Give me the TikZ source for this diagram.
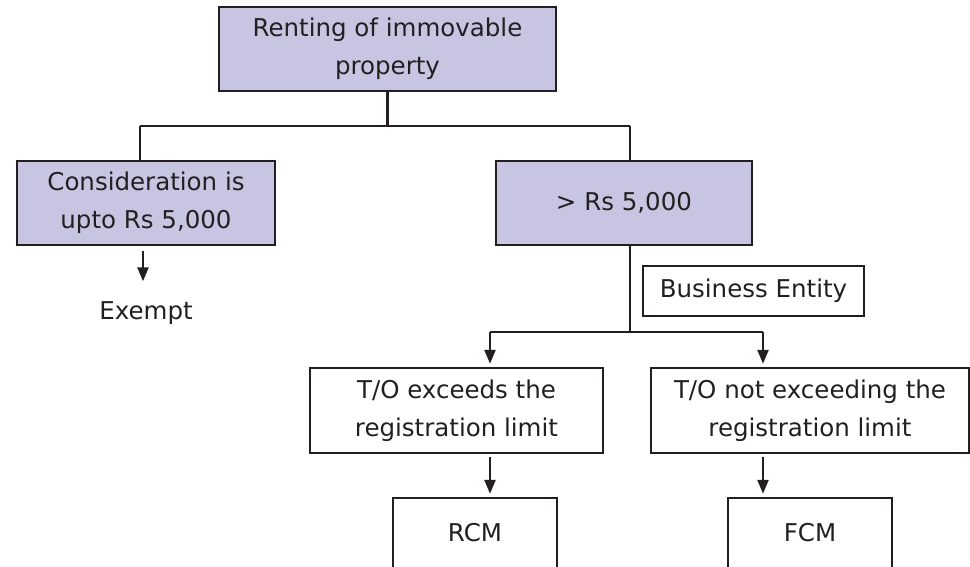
\documentclass[tikz,border=0pt]{standalone}
\usepackage{fontspec}
\setmainfont{DejaVu Sans}
\usetikzlibrary{arrows.meta}
\definecolor{boxfill}{RGB}{200,197,226}
\definecolor{ink}{RGB}{35,31,32}

\begin{document}
\begin{tikzpicture}
[x=1pt,y=-1pt,line width=2.5pt,draw=ink,
 box/.style={draw=ink,line width=2.5pt,text=ink,align=center,inner sep=0pt,font=\fontsize{24.5}{38}\selectfont},
 shaded/.style={box,fill=boxfill},
 txt/.style={text=ink,inner sep=0pt,font=\fontsize{24.5}{38}\selectfont},
 arr/.style={-{Triangle[length=14pt,width=11pt]},shorten >=3pt}]
\useasboundingbox (0,0) rectangle (970,566);

\node[shaded,minimum width=337pt,minimum height=84pt] (v1) at (387.5,49) {Renting of immovable\\property};
\node[shaded,minimum width=258pt,minimum height=84pt] (v2) at (146,203) {Consideration is\\upto Rs 5,000};
\node[shaded,minimum width=256pt,minimum height=84pt] (v3) at (624,203) {> Rs 5,000};
\node[txt] (v4) at (146,313) {Exempt};

\node[box,minimum width=221pt,minimum height=50pt] (v5) at (753.5,291) {Business Entity};
\node[box,minimum width=293pt,minimum height=85pt] (v6) at (456.5,410.5) {T/O exceeds the\\registration limit};
\node[box,minimum width=318pt,minimum height=85pt] (v7) at (810,410.5) {T/O not exceeding the\\registration limit};
\node[box,minimum width=164pt,minimum height=70pt] (v8) at (475,533) {RCM};
\node[box,minimum width=164pt,minimum height=70pt] (v9) at (810,533) {FCM};

\coordinate (j1) at (387.5,126);
\coordinate (cl) at (140,126);
\coordinate (cr) at (630,126);
\coordinate (j2) at (630,332);
\coordinate (ja) at (490,332);
\coordinate (jb) at (763,332);

\draw (v1.south) -- (j1);
\draw (cl) -- (cr);
\foreach \from/\to in {cl/v2,cr/v3}
\draw (\from) -- (\from |- \to.north);
\draw (cr |- v3.south) -- (j2);
\draw (ja) -- (jb);

\foreach \at/\from/\to in {ja/v6/v8,jb/v7/v9}{
\draw[arr] (\at) -- (\at |- \from.north);
\draw[arr,shorten <=3pt] (\at |- \from.south) -- (\at |- \to.north);
}
\draw[arr,shorten <=5pt,shorten >=19pt] ([xshift=-3pt]v2.south) -- ([xshift=-3pt]v4.north);
\end{tikzpicture}
\end{document}
